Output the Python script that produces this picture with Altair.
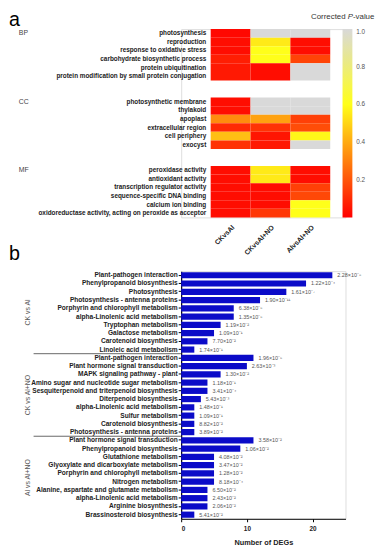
import altair as alt
import pandas as pd

FONT = "Liberation Sans"

# ---------------- Panel a: GO heatmap ----------------
go_group_names = ["BP", "CC", "MF"]
go_groups = ["BP"] * 6 + ["CC"] * 6 + ["MF"] * 6
go_terms = [
    "photosynthesis", "reproduction", "response to oxidative stress",
    "carbohydrate biosynthetic process", "protein ubiquitination",
    "protein modification by small protein conjugation",
    "photosynthetic membrane", "thylakoid", "apoplast", "extracellular region",
    "cell periphery", "exocyst",
    "peroxidase activity", "antioxidant activity", "transcription regulator activity",
    "sequence-specific DNA binding", "calcium ion binding",
    "oxidoreductase activity, acting on peroxide as acceptor",
]
comparisons = ["CKvsAl", "CKvsAl+NO", "AlvsAl+NO"]
p_ck_al = [0.02, 0.03, 0.03, 0.07, 0.06, 0.06,
           0.03, 0.03, 0.33, 0.10, 0.45, 0.12,
           0.03, 0.03, 0.03, 0.03, 0.03, 0.03]
p_ck_alno = [1.0, 0.55, 0.6, 0.6, 0.03, 0.03,
             1.0, 1.0, 0.38, 0.12, 0.05, 0.06,
             0.55, 0.55, 0.03, 0.03, 0.03, 0.13]
p_al_alno = [1.0, 0.03, 0.03, 0.16, 1.0, 1.0,
             1.0, 1.0, 0.15, 0.18, 0.58, 1.0,
             0.03, 0.03, 0.15, 0.17, 0.6, 0.6]
colorbar_ticks = [0.2, 0.4, 0.6, 0.8, 1.0]
legend_title_parts = ["Corrected ", "P", "-value"]

hm_rows = []
for i, term in enumerate(go_terms):
    for comp, vals in zip(comparisons, [p_ck_al, p_ck_alno, p_al_alno]):
        hm_rows.append({"term": term, "group": go_groups[i], "comparison": comp, "p": vals[i]})
hm_df = pd.DataFrame(hm_rows)

row_domain = []
for gi, g in enumerate(go_group_names):
    if gi > 0:
        row_domain += [" " * (2 * gi - 1), " " * (2 * gi)]
    row_domain += [t for t, gg in zip(go_terms, go_groups) if gg == g]

grp_df = pd.DataFrame({
    "group": go_group_names,
    "term": [next(t for t, gg in zip(go_terms, go_groups) if gg == g) for g in go_group_names],
})

HM_ROW = 8.7
HM_X0 = 30
y_hm = alt.Y("term:N", scale=alt.Scale(domain=row_domain, paddingInner=0, paddingOuter=0),
             axis=alt.Axis(title=None, domain=False, ticks=False, labelFontSize=6.5,
                           labelFontWeight="bold", labelColor="#222", labelPadding=5,
                           labelFont=FONT, offset=-HM_X0))

heat = alt.Chart(hm_df).mark_rect().encode(
    x=alt.X("comparison:N",
            scale=alt.Scale(domain=comparisons, range=[HM_X0, HM_X0 + 121.5],
                            paddingInner=0, paddingOuter=0),
            axis=alt.Axis(title=None, labelAngle=-45, domain=False, ticks=False,
                          labelFontSize=7, labelFontWeight="bold", labelColor="#222",
                          labelPadding=6, labelFont=FONT)),
    y=y_hm,
    color=alt.Color("p:Q",
                    scale=alt.Scale(domain=[0, 0.6, 1.0],
                                    range=["#FF0000", "#FFFF1A", "#D9D9D9"],
                                    interpolate="rgb"),
                    legend=alt.Legend(orient="none", legendX=164, legendY=0,
                                      direction="vertical", gradientLength=22 * HM_ROW,
                                      gradientThickness=10, title=None,
                                      values=colorbar_ticks, format=".1f",
                                      labelFontSize=6.5, labelColor="#555",
                                      labelOffset=4, labelFont=FONT,
                                      gradientStrokeWidth=0)),
)

grp_text = alt.Chart(grp_df).mark_text(align="left", baseline="middle", fontSize=7,
                                       color="#444", font=FONT).encode(
    y=alt.Y("term:N", scale=alt.Scale(domain=row_domain, paddingInner=0, paddingOuter=0)),
    x=alt.value(-165),
    text="group:N",
)

t1 = alt.Chart(pd.DataFrame({"t": [legend_title_parts[0]]})).mark_text(
    align="left", baseline="middle", fontSize=8, color="#333", font=FONT).encode(
    x=alt.value(132), y=alt.value(-12.5), text="t:N")
t2 = alt.Chart(pd.DataFrame({"t": [legend_title_parts[1]]})).mark_text(
    align="left", baseline="middle", fontSize=8, color="#333", font=FONT,
    fontStyle="italic").encode(x=alt.value(169.3), y=alt.value(-12.5), text="t:N")
t3 = alt.Chart(pd.DataFrame({"t": [legend_title_parts[2]]})).mark_text(
    align="left", baseline="middle", fontSize=8, color="#333", font=FONT).encode(
    x=alt.value(174.6), y=alt.value(-12.5), text="t:N")

letter_a = alt.Chart(pd.DataFrame({"t": ["a"]})).mark_text(
    align="left", baseline="top", fontSize=20, color="#000", font=FONT).encode(
    x=alt.value(-175), y=alt.value(-19), text="t:N")

top = alt.layer(heat, grp_text, t1, t2, t3, letter_a).properties(
    width=167, height=22 * HM_ROW)

# ---------------- Panel b: KEGG bars ----------------
kegg_group_names = ["CK vs Al", "CK vs Al+NO", "Al vs Al+NO"]
kegg_terms_1 = [
    "Plant-pathogen interaction", "Phenylpropanoid biosynthesis", "Photosynthesis",
    "Photosynthesis - antenna proteins", "Porphyrin and chlorophyll metabolism",
    "alpha-Linolenic acid metabolism", "Tryptophan metabolism", "Galactose metabolism",
    "Carotenoid biosynthesis", "Linoleic acid metabolism",
]
kegg_degs_1 = [23, 19, 16, 12, 8, 8, 6, 5, 4, 2]
kegg_p_1 = ["2.28×10⁻⁸", "1.22×10⁻⁴", "1.61×10⁻⁷", "1.90×10⁻¹¹", "6.38×10⁻⁵",
            "1.35×10⁻⁵", "1.19×10⁻²", "1.09×10⁻¹", "7.70×10⁻²", "1.74×10⁻¹"]
kegg_terms_2 = [
    "Plant-pathogen interaction", "Plant hormone signal transduction",
    "MAPK signaling pathway - plant", "Amino sugar and nucleotide sugar metabolism",
    "Sesquiterpenoid and triterpenoid biosynthesis", "Diterpenoid biosynthesis",
    "alpha-Linolenic acid metabolism", "Sulfur metabolism", "Carotenoid biosynthesis",
    "Photosynthesis - antenna proteins",
]
kegg_degs_2 = [11, 10, 6, 4, 4, 3, 2, 2, 2, 2]
kegg_p_2 = ["1.96×10⁻⁵", "2.63×10⁻³", "1.30×10⁻²", "1.18×10⁻¹", "3.41×10⁻⁴",
            "5.43×10⁻³", "1.48×10⁻¹", "1.09×10⁻¹", "8.82×10⁻²", "3.89×10⁻²"]
kegg_terms_3 = [
    "Plant hormone signal transduction", "Phenylpropanoid biosynthesis",
    "Glutathione metabolism", "Glyoxylate and dicarboxylate metabolism",
    "Porphyrin and chlorophyll metabolism", "Nitrogen metabolism",
    "Alanine, aspartate and glutamate metabolism", "alpha-Linolenic acid metabolism",
    "Arginine biosynthesis", "Brassinosteroid biosynthesis",
]
kegg_degs_3 = [11, 9, 5, 5, 5, 5, 4, 4, 4, 2]
kegg_p_3 = ["3.58×10⁻²", "1.06×10⁻²", "4.08×10⁻²", "3.47×10⁻²", "1.28×10⁻²",
            "8.18×10⁻⁴", "6.50×10⁻²", "2.43×10⁻²", "2.06×10⁻²", "5.41×10⁻²"]
x_ticks = [0, 5, 10, 15, 20, 25]

bar_rows = []
for gi, (terms, degs, ps) in enumerate(zip([kegg_terms_1, kegg_terms_2, kegg_terms_3],
                                           [kegg_degs_1, kegg_degs_2, kegg_degs_3],
                                           [kegg_p_1, kegg_p_2, kegg_p_3])):
    for t, d, p in zip(terms, degs, ps):
        bar_rows.append({"key": f"{gi}|{t}", "group": kegg_group_names[gi], "degs": d, "p": p})
bar_df = pd.DataFrame(bar_rows)
keys = list(bar_df["key"])

STEP = 8.39
y_scale = alt.Scale(domain=keys, paddingInner=0.25, paddingOuter=0.125)
x_scale = alt.Scale(domain=[0, 25])

bars = alt.Chart(bar_df).mark_bar(color="#0B0BC8").encode(
    x=alt.X("degs:Q", scale=x_scale,
            axis=alt.Axis(title="Number of DEGs", values=x_ticks, grid=False, tickSize=3,
                          domainColor="#000", tickColor="#000", labelFontSize=6.5,
                          labelFontWeight="bold", labelColor="#222", labelFont=FONT,
                          titleFont=FONT, titleFontSize=7.5, titleFontWeight="bold",
                          titleColor="#222", titlePadding=7, labelPadding=4)),
    y=alt.Y("key:N", scale=y_scale,
            axis=alt.Axis(title=None, labelExpr="split(datum.label, '|')[1]", tickSize=3,
                          domainColor="#000", tickColor="#000", labelFontSize=6.7,
                          labelFontWeight="bold", labelColor="#222", labelFont=FONT,
                          labelPadding=1, domainWidth=1.2)),
)

vals = alt.Chart(bar_df).mark_text(align="left", baseline="middle", dx=5, fontSize=5.5,
                                   color="#555", font=FONT).encode(
    x=alt.X("degs:Q", scale=x_scale), y=alt.Y("key:N", scale=y_scale), text="p:N")

sep_df = pd.DataFrame({"key": [keys[10], keys[20]]})
seps = alt.Chart(sep_df).mark_rule(color="#666", strokeWidth=1, yOffset=-STEP / 2).encode(
    y=alt.Y("key:N", scale=y_scale), x=alt.value(-150), x2=alt.value(0))

glab_df = pd.DataFrame({"key": [keys[4], keys[14], keys[24]], "g": kegg_group_names})
glabs = alt.Chart(glab_df).mark_text(angle=270, align="center", baseline="middle",
                                     fontSize=7, color="#555", font=FONT,
                                     yOffset=STEP / 2).encode(
    y=alt.Y("key:N", scale=y_scale), x=alt.value(-156), text="g:N")

letter_b = alt.Chart(pd.DataFrame({"t": ["b"]})).mark_text(
    align="left", baseline="top", fontSize=20, color="#000", font=FONT).encode(
    x=alt.value(-175), y=alt.value(-27), text="t:N")

bottom = alt.layer(bars, vals, seps, glabs, letter_b).properties(
    width=167, height=30 * STEP)

chart = alt.vconcat(top, bottom, spacing=-13).properties(
    padding={"top": -3, "left": 0, "right": 0, "bottom": 0}).configure_view(
    stroke=None).configure(font=FONT)

chart.save("out.html", embed_options={"renderer": "svg", "actions": False})
